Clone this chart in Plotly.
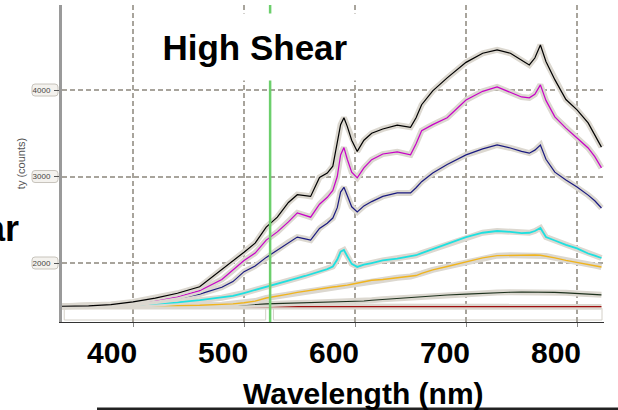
import plotly.graph_objects as go

wavelength = [336, 360, 380, 400, 420, 440, 460, 480, 490, 500, 510, 520, 530, 540, 548, 555, 560, 568,
              575, 580, 584, 587, 590, 593, 597, 602, 608, 615, 625, 638, 650, 655, 660, 670, 683, 700,
              715, 728, 740, 750, 757, 762, 767, 772, 780, 790, 800, 810, 816, 822]

black = [1500, 1505, 1520, 1550, 1595, 1650, 1725, 1925, 2015, 2125, 2230, 2415, 2530, 2700, 2790, 2780, 2770, 2990,
         3040, 3120, 3400, 3600, 3680, 3580, 3420, 3290, 3420, 3500, 3550, 3595, 3570, 3680, 3830, 3990, 4140, 4320,
         4425, 4465, 4425, 4340, 4290, 4370, 4520, 4330, 4120, 3890, 3770, 3620, 3480, 3340]
magenta = [1500, 1503, 1515, 1540, 1570, 1610, 1680, 1810, 1915, 2030, 2115, 2265, 2360, 2475, 2580, 2550, 2530, 2680,
           2760, 2840, 3000, 3250, 3335, 3200, 3050, 2985, 3100, 3195, 3260, 3285, 3250, 3380, 3530, 3600, 3680, 3885,
           3985, 4035, 3975, 3920, 3910, 3950, 4060, 3880, 3690, 3560, 3445, 3330, 3230, 3100]
navy = [1500, 1502, 1512, 1530, 1555, 1590, 1640, 1720, 1785, 1900, 1965, 2065, 2150, 2240, 2300, 2280, 2265, 2400,
        2460, 2520, 2640, 2820, 2875, 2780, 2650, 2590, 2660, 2710, 2770, 2810, 2810, 2870, 2940, 3040, 3140, 3250,
        3320, 3365, 3330, 3290, 3270, 3305, 3365, 3200, 3050, 2960, 2880, 2785, 2720, 2636]
cyan = [1500, 1500, 1505, 1515, 1530, 1545, 1570, 1598, 1620, 1653, 1690, 1730, 1760, 1800, 1825, 1850, 1870, 1900,
        1930, 1960, 2040, 2130, 2150, 2080, 1990, 1955, 1980, 2000, 2030, 2050, 2075, 2090, 2115, 2160, 2220, 2300,
        2350, 2370, 2360, 2345, 2350, 2370, 2405, 2300, 2260, 2210, 2170, 2110, 2085, 2058]
orange = [1500, 1500, 1500, 1502, 1505, 1508, 1512, 1518, 1528, 1540, 1560, 1595, 1615, 1640, 1660, 1675, 1685, 1700,
          1715, 1722, 1728, 1732, 1738, 1745, 1755, 1767, 1780, 1800, 1810, 1830, 1845, 1855, 1880, 1920, 1960, 2010,
          2060, 2085, 2090, 2090, 2095, 2093, 2090, 2080, 2060, 2030, 2005, 1985, 1970, 1954]
dark_green = [1500, 1500, 1500, 1500, 1502, 1504, 1506, 1510, 1512, 1515, 1520, 1528, 1532, 1535, 1538, 1540, 1541, 1543,
              1545, 1547, 1548, 1549, 1550, 1551, 1552, 1555, 1560, 1570, 1580, 1592, 1602, 1606, 1612, 1620, 1630, 1640,
              1650, 1658, 1662, 1664, 1665, 1665, 1664, 1663, 1660, 1655, 1648, 1640, 1636, 1632]
dark_red = [1497, 1497, 1496, 1496, 1495, 1495, 1495, 1495, 1495, 1495, 1495, 1495, 1495, 1495, 1495, 1495, 1495, 1495,
            1495, 1495, 1495, 1495, 1495, 1495, 1495, 1495, 1495, 1495, 1495, 1495, 1495, 1495, 1495, 1495, 1495, 1495,
            1495, 1495, 1495, 1495, 1495, 1495, 1495, 1495, 1495, 1495, 1495, 1495, 1495, 1495]

x_ticks = [400, 500, 600, 700, 800]
x_tick_labels = ["400", "500", "600", "700", "800"]
y_ticks = [2000, 3000, 4000]
y_tick_labels = ["2000", "3000", "4000"]
marker_wavelength = 523.5

FONT = "Liberation Sans, Arial, sans-serif"
HALO = "#dcd8d0"

series = [
    ("dark red", dark_red, "#a01010", 1.2),
    ("dark green", dark_green, "#1e321e", 1.1),
    ("orange", orange, "#f0b41e", 1.4),
    ("cyan", cyan, "#1ee0e0", 1.8),
    ("navy", navy, "#1a1a80", 1.2),
    ("magenta", magenta, "#c800c8", 1.2),
    ("black", black, "#000000", 1.2),
]

fig = go.Figure()
for name, vals, color, w in series:
    fig.add_trace(go.Scatter(x=wavelength, y=vals, mode="lines", name=name + " halo",
                             line=dict(color=HALO, width=6), hoverinfo="skip"))
    fig.add_trace(go.Scatter(x=wavelength, y=vals, mode="lines", name=name,
                             line=dict(color=color, width=w)))

grid = dict(showgrid=True, gridcolor="#a8a49c", gridwidth=2, griddash="5px,3px", zeroline=False)

fig.update_layout(
    width=618, height=410,
    margin=dict(l=62, r=14, t=5, b=88),
    paper_bgcolor="white", plot_bgcolor="white",
    showlegend=False,
    font=dict(family=FONT),
    xaxis=dict(range=[336, 824.3], tickmode="array", tickvals=x_ticks, ticktext=x_tick_labels,
               tickfont=dict(family=FONT, size=30, color="black", weight="bold"),
               ticks="outside", ticklen=4, tickcolor="#888", tickwidth=1,
               ticklabelshift=-21, ticklabelstandoff=0,
               showline=True, linecolor="#333", linewidth=1, **grid),
    yaxis=dict(range=[1318, 4983], tickmode="array", tickvals=y_ticks, ticktext=y_tick_labels,
               tickfont=dict(family=FONT, size=8, color="#444"),
               ticks="outside", ticklen=5, tickcolor="#555", tickwidth=1, ticklabelstandoff=2,
               title=dict(text="ty (counts)", font=dict(family=FONT, size=11, color="#555"), standoff=5),
               showline=True, linecolor="#9a9a9a", linewidth=3, **grid),
)

shapes = []
# green marker line
shapes.append(dict(type="line", xref="x", yref="paper", x0=marker_wavelength, x1=marker_wavelength,
                   y0=0, y1=1, line=dict(color="#6ccf6c", width=2.5), layer="above"))
# rounded boxes behind small y tick labels
box = "M -27,-6 L -7,-6 Q -4,-6 -4,-3 L -4,3 Q -4,6 -7,6 L -27,6 Q -30,6 -30,3 L -30,-3 Q -30,-6 -27,-6 Z"
for yv in y_ticks:
    shapes.append(dict(type="path", xref="paper", yref="y", xsizemode="pixel", ysizemode="pixel",
                       xanchor=0, yanchor=yv, path=box, fillcolor="#f4f2ee",
                       line=dict(color="#c8c4bc", width=1), layer="below"))
# strip boxes under the plot (original small x-label row)
for x0, x1 in [(338, 519.5), (526.5, 822.5)]:
    shapes.append(dict(type="rect", xref="x", yref="y", x0=x0, x1=x1, y0=1341, y1=1476,
                       line=dict(color="#d4d0c8", width=1), fillcolor="rgba(0,0,0,0)", layer="below"))
# black rule at bottom
shapes.append(dict(type="line", xref="paper", yref="paper", x0=0.0646, x1=1.03, y0=-0.2744, y1=-0.2744,
                   line=dict(color="#222", width=3)))
fig.update_layout(shapes=shapes)

fig.add_annotation(text="High Shear", xref="paper", yref="paper", x=0.356, y=0.867,
                   xanchor="center", yanchor="middle", showarrow=False,
                   width=220, height=64, bgcolor="white",
                   font=dict(family=FONT, size=35, color="black", weight="bold"))
fig.add_annotation(text="ar", xref="paper", yref="paper", x=-0.0756, y=0.296,
                   xanchor="right", yanchor="middle", showarrow=False,
                   font=dict(family=FONT, size=36, color="black", weight="bold"))
fig.add_annotation(text="Wavelength (nm)", xref="paper", yref="paper", x=0.5554, y=-0.225,
                   xanchor="center", yanchor="middle", showarrow=False,
                   font=dict(family=FONT, size=30, color="black", weight="bold"))

fig.write_html("out.html")
